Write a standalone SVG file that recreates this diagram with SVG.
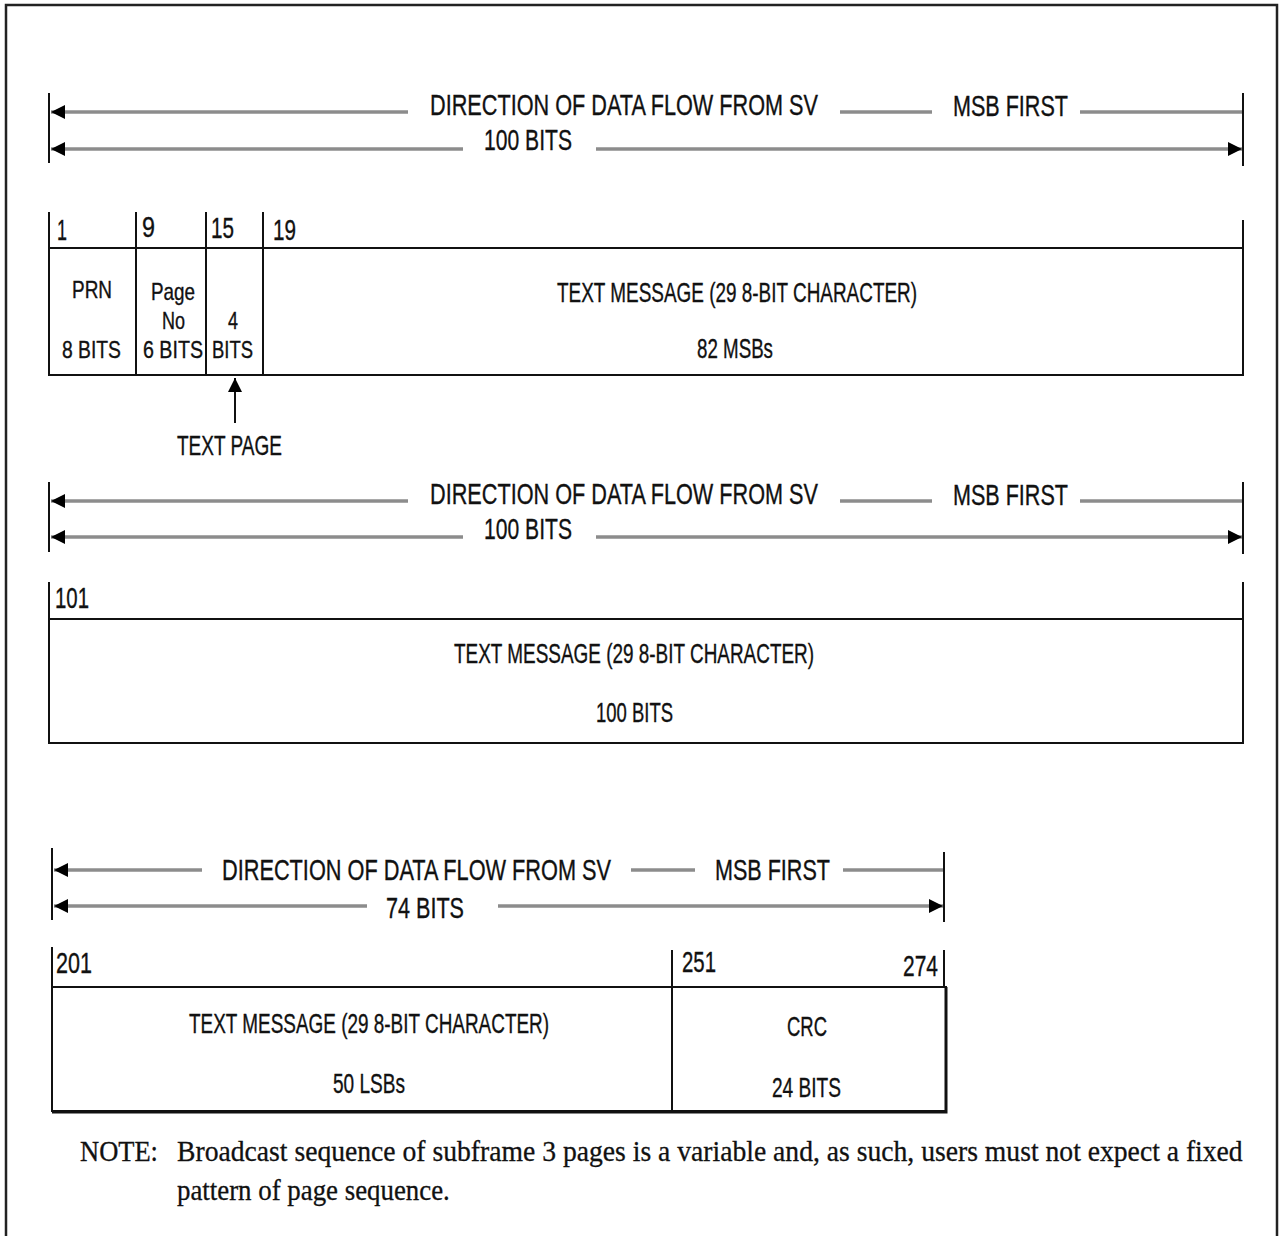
<svg xmlns="http://www.w3.org/2000/svg" width="1281" height="1236" viewBox="0 0 1281 1236">
<style>
.t{font-family:"Liberation Sans",Arial,sans-serif;fill:#111;stroke:#111;stroke-width:0.35;}
.big{font-size:29px;}
.mid{font-size:27px;}
.sm{font-size:24px;}
.n{font-family:"Liberation Serif","Times New Roman",serif;font-size:29px;fill:#111;stroke:#111;stroke-width:0.3;}
.fl{stroke:#8c8c8c;stroke-width:3.5;fill:none;}
.tk{stroke:#111;stroke-width:2;fill:none;}
.bx{stroke:#111;stroke-width:2;fill:none;}
</style>
<defs>
<marker id="ah" viewBox="0 0 14 14" refX="14" refY="7" markerWidth="14" markerHeight="14" markerUnits="userSpaceOnUse" orient="auto">
<path d="M0,0 L14,7 L0,14 z" fill="#000"/>
</marker>
</defs>
<rect width="1281" height="1236" fill="#fff"/>
<path d="M6,1236 V5 H1277 V1236" stroke="#222" stroke-width="2.5" fill="none"/>

<g id="connectors">
<line class="fl" x1="408" y1="112" x2="51" y2="112" marker-end="url(#ah)"/>
<line class="fl" x1="840" y1="112" x2="932" y2="112"/>
<line class="fl" x1="1080" y1="112" x2="1243" y2="112"/>
<line class="fl" x1="463" y1="149" x2="51" y2="149" marker-end="url(#ah)"/>
<line class="fl" x1="596" y1="149" x2="1242" y2="149" marker-end="url(#ah)"/>
<line class="tk" x1="49" y1="93" x2="49" y2="163"/>
<line class="tk" x1="1243" y1="93" x2="1243" y2="166"/>
<line stroke="#111" stroke-width="2" x1="235" y1="423" x2="235" y2="378" marker-end="url(#ah)"/>
<line class="fl" x1="408" y1="501" x2="51" y2="501" marker-end="url(#ah)"/>
<line class="fl" x1="840" y1="501" x2="932" y2="501"/>
<line class="fl" x1="1080" y1="501" x2="1243" y2="501"/>
<line class="fl" x1="463" y1="537" x2="51" y2="537" marker-end="url(#ah)"/>
<line class="fl" x1="596" y1="537" x2="1242" y2="537" marker-end="url(#ah)"/>
<line class="tk" x1="49" y1="482" x2="49" y2="552"/>
<line class="tk" x1="1243" y1="482" x2="1243" y2="554"/>
<line class="fl" x1="202" y1="870" x2="54" y2="870" marker-end="url(#ah)"/>
<line class="fl" x1="631" y1="870" x2="695" y2="870"/>
<line class="fl" x1="843" y1="870" x2="944" y2="870"/>
<line class="fl" x1="367" y1="906" x2="54" y2="906" marker-end="url(#ah)"/>
<line class="fl" x1="498" y1="906" x2="943" y2="906" marker-end="url(#ah)"/>
<line class="tk" x1="52" y1="848" x2="52" y2="920"/>
<line class="tk" x1="944" y1="852" x2="944" y2="922"/>
</g>

<g id="header1">
<text class="t big" transform="translate(430,115) scale(0.73,1)" textLength="531.5" lengthAdjust="spacingAndGlyphs">DIRECTION OF DATA FLOW FROM SV</text>
<text class="t big" transform="translate(953,116) scale(0.73,1)" textLength="157.5" lengthAdjust="spacingAndGlyphs">MSB FIRST</text>
<text class="t big" transform="translate(484,150) scale(0.73,1)" textLength="120.5" lengthAdjust="spacingAndGlyphs">100 BITS</text>
</g>

<g id="word1">
<line class="tk" x1="49" y1="212" x2="49" y2="248"/>
<line class="tk" x1="136" y1="212" x2="136" y2="375"/>
<line class="tk" x1="206" y1="212" x2="206" y2="375"/>
<line class="tk" x1="263" y1="212" x2="263" y2="375"/>
<line class="tk" x1="1243" y1="220" x2="1243" y2="248"/>
<rect class="bx" x="49" y="248" width="1194" height="127"/>
<text class="t big" transform="translate(57,240) scale(0.73,1)" textLength="13.7" lengthAdjust="spacingAndGlyphs">1</text>
<text class="t big" transform="translate(142,237) scale(0.73,1)" textLength="17.8" lengthAdjust="spacingAndGlyphs">9</text>
<text class="t big" transform="translate(211,238) scale(0.73,1)" textLength="31.5" lengthAdjust="spacingAndGlyphs">15</text>
<text class="t big" transform="translate(273,240) scale(0.73,1)" textLength="31.5" lengthAdjust="spacingAndGlyphs">19</text>
<text class="t sm" transform="translate(72,298) scale(0.73,1)" textLength="54.8" lengthAdjust="spacingAndGlyphs">PRN</text>
<text class="t sm" transform="translate(62,358) scale(0.73,1)" textLength="80.8" lengthAdjust="spacingAndGlyphs">8 BITS</text>
<text class="t sm" transform="translate(151,300) scale(0.73,1)" textLength="60.3" lengthAdjust="spacingAndGlyphs">Page</text>
<text class="t sm" transform="translate(162,329) scale(0.73,1)" textLength="31.5" lengthAdjust="spacingAndGlyphs">No</text>
<text class="t sm" transform="translate(143,358) scale(0.73,1)" textLength="82.2" lengthAdjust="spacingAndGlyphs">6 BITS</text>
<text class="t sm" transform="translate(228,329) scale(0.73,1)" textLength="13.7" lengthAdjust="spacingAndGlyphs">4</text>
<text class="t sm" transform="translate(212,358) scale(0.73,1)" textLength="56.2" lengthAdjust="spacingAndGlyphs">BITS</text>
<text class="t mid" transform="translate(557,302) scale(0.73,1)" textLength="493.2" lengthAdjust="spacingAndGlyphs">TEXT MESSAGE (29 8-BIT CHARACTER)</text>
<text class="t mid" transform="translate(697,358) scale(0.73,1)" textLength="104.1" lengthAdjust="spacingAndGlyphs">82 MSBs</text>
<text class="t mid" transform="translate(177,455) scale(0.73,1)" textLength="143.8" lengthAdjust="spacingAndGlyphs">TEXT PAGE</text>
</g>

<g id="header2">
<text class="t big" transform="translate(430,504) scale(0.73,1)" textLength="531.5" lengthAdjust="spacingAndGlyphs">DIRECTION OF DATA FLOW FROM SV</text>
<text class="t big" transform="translate(953,505) scale(0.73,1)" textLength="157.5" lengthAdjust="spacingAndGlyphs">MSB FIRST</text>
<text class="t big" transform="translate(484,539) scale(0.73,1)" textLength="120.5" lengthAdjust="spacingAndGlyphs">100 BITS</text>
</g>

<g id="word2">
<line class="tk" x1="49" y1="582" x2="49" y2="619"/>
<line class="tk" x1="1243" y1="582" x2="1243" y2="619"/>
<rect class="bx" x="49" y="619" width="1194" height="124"/>
<text class="t big" transform="translate(55,608) scale(0.73,1)" textLength="46.6" lengthAdjust="spacingAndGlyphs">101</text>
<text class="t mid" transform="translate(454,663) scale(0.73,1)" textLength="493.2" lengthAdjust="spacingAndGlyphs">TEXT MESSAGE (29 8-BIT CHARACTER)</text>
<text class="t mid" transform="translate(596,722) scale(0.73,1)" textLength="105.5" lengthAdjust="spacingAndGlyphs">100 BITS</text>
</g>

<g id="header3">
<text class="t big" transform="translate(222,880) scale(0.73,1)" textLength="533" lengthAdjust="spacingAndGlyphs">DIRECTION OF DATA FLOW FROM SV</text>
<text class="t big" transform="translate(715,880) scale(0.73,1)" textLength="157.5" lengthAdjust="spacingAndGlyphs">MSB FIRST</text>
<text class="t big" transform="translate(386,918) scale(0.73,1)" textLength="106.8" lengthAdjust="spacingAndGlyphs">74 BITS</text>
</g>

<g id="word3">
<line class="tk" x1="52" y1="947" x2="52" y2="987"/>
<line class="tk" x1="672" y1="950" x2="672" y2="1111"/>
<line class="tk" x1="944" y1="950" x2="944" y2="987"/>
<path d="M52,987 H946 V1111 H52 Z" stroke="#111" stroke-width="2" fill="none"/>
<path d="M946,987 V1112 H52" stroke="#111" stroke-width="3" fill="none"/>
<text class="t big" transform="translate(56,973) scale(0.73,1)" textLength="49.3" lengthAdjust="spacingAndGlyphs">201</text>
<text class="t big" transform="translate(682,972) scale(0.73,1)" textLength="46.6" lengthAdjust="spacingAndGlyphs">251</text>
<text class="t big" transform="translate(903,976) scale(0.73,1)" textLength="47.9" lengthAdjust="spacingAndGlyphs">274</text>
<text class="t mid" transform="translate(189,1033) scale(0.73,1)" textLength="493.2" lengthAdjust="spacingAndGlyphs">TEXT MESSAGE (29 8-BIT CHARACTER)</text>
<text class="t mid" transform="translate(333,1093) scale(0.73,1)" textLength="98.6" lengthAdjust="spacingAndGlyphs">50 LSBs</text>
<text class="t mid" transform="translate(787,1036) scale(0.73,1)" textLength="54.8" lengthAdjust="spacingAndGlyphs">CRC</text>
<text class="t mid" transform="translate(772,1097) scale(0.73,1)" textLength="94.5" lengthAdjust="spacingAndGlyphs">24 BITS</text>
</g>

<g id="note">
<text class="n" transform="translate(80,1161) scale(0.88,1)" textLength="88.6" lengthAdjust="spacingAndGlyphs">NOTE:</text>
<text class="n" transform="translate(177,1161) scale(0.88,1)" textLength="1211" lengthAdjust="spacingAndGlyphs">Broadcast sequence of subframe 3 pages is a variable and, as such, users must not expect a fixed</text>
<text class="n" transform="translate(177,1200) scale(0.88,1)" textLength="310" lengthAdjust="spacingAndGlyphs">pattern of page sequence.</text>
</g>
</svg>
